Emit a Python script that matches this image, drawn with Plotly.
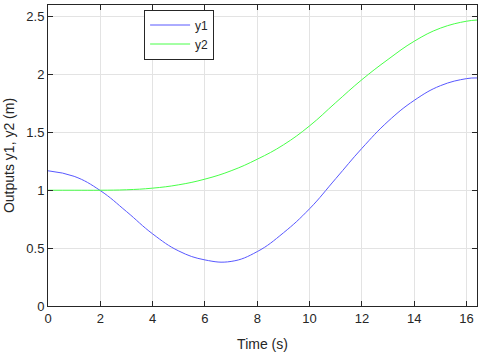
import plotly.graph_objects as go

# valores
t = [0, 1, 2, 3, 4, 5, 6, 7, 8, 9, 10, 11, 12, 13, 14, 15, 16, 16.4]
y1 = [1.168, 1.12, 0.997, 0.816, 0.623, 0.475, 0.398, 0.385, 0.47, 0.632,
      0.84, 1.10, 1.362, 1.595, 1.776, 1.903, 1.964, 1.97]
y2 = [1.0, 1.0, 1.0, 1.004, 1.018, 1.047, 1.096, 1.168, 1.268, 1.392,
      1.556, 1.757, 1.955, 2.13, 2.287, 2.40, 2.46, 2.47]

x_ticks = [0, 2, 4, 6, 8, 10, 12, 14, 16]
y_ticks = [0, 0.5, 1, 1.5, 2, 2.5]

fig = go.Figure()

fig.add_trace(go.Scatter(
    x=t, y=y1, name="y1", mode="lines",
    line=dict(color="#5858ff", width=1, shape="spline", smoothing=1.2)
))
fig.add_trace(go.Scatter(
    x=t, y=y2, name="y2", mode="lines",
    line=dict(color="#48ff48", width=1, shape="spline", smoothing=1.2)
))

axis_common = dict(
    showgrid=True,
    gridcolor="#e3e3e3",
    gridwidth=1,
    showline=True,
    linecolor="#262626",
    linewidth=1,
    mirror="ticks",
    ticks="inside",
    ticklen=5,
    tickcolor="#262626",
    zeroline=False,
    automargin=False,
    tickfont=dict(size=13, color="#262626"),
)

fig.update_layout(
    width=480,
    height=353,
    paper_bgcolor="white",
    plot_bgcolor="white",
    font=dict(family="Liberation Sans, Arial", color="#262626"),
    margin=dict(l=48, r=3, t=5, b=47),
    xaxis=dict(
        axis_common,
        range=[0, 16.4],
        tickvals=x_ticks,
        title=dict(text="Time (s)", font=dict(size=14), standoff=14),
    ),
    yaxis=dict(
        axis_common,
        range=[0, 2.6],
        tickvals=y_ticks,
        ticktext=["0", "0.5", "1", "1.5", "2", "2.5"],
        title=dict(text="Outputs y1, y2 (m)", font=dict(size=14), standoff=8),
    ),
    legend=dict(
        x=0.224, y=0.985,
        xanchor="left", yanchor="top",
        bgcolor="white",
        bordercolor="#262626",
        borderwidth=1,
        font=dict(size=12, color="#262626"),
        tracegroupgap=0,
        itemwidth=40,
    ),
    showlegend=True,
)

# a página tem margem de 8px no body; tirar para alinhar com a janela
fig.write_html(
    "out.html",
    config={"displayModeBar": False},
    post_script="document.body.style.margin='0';",
)
